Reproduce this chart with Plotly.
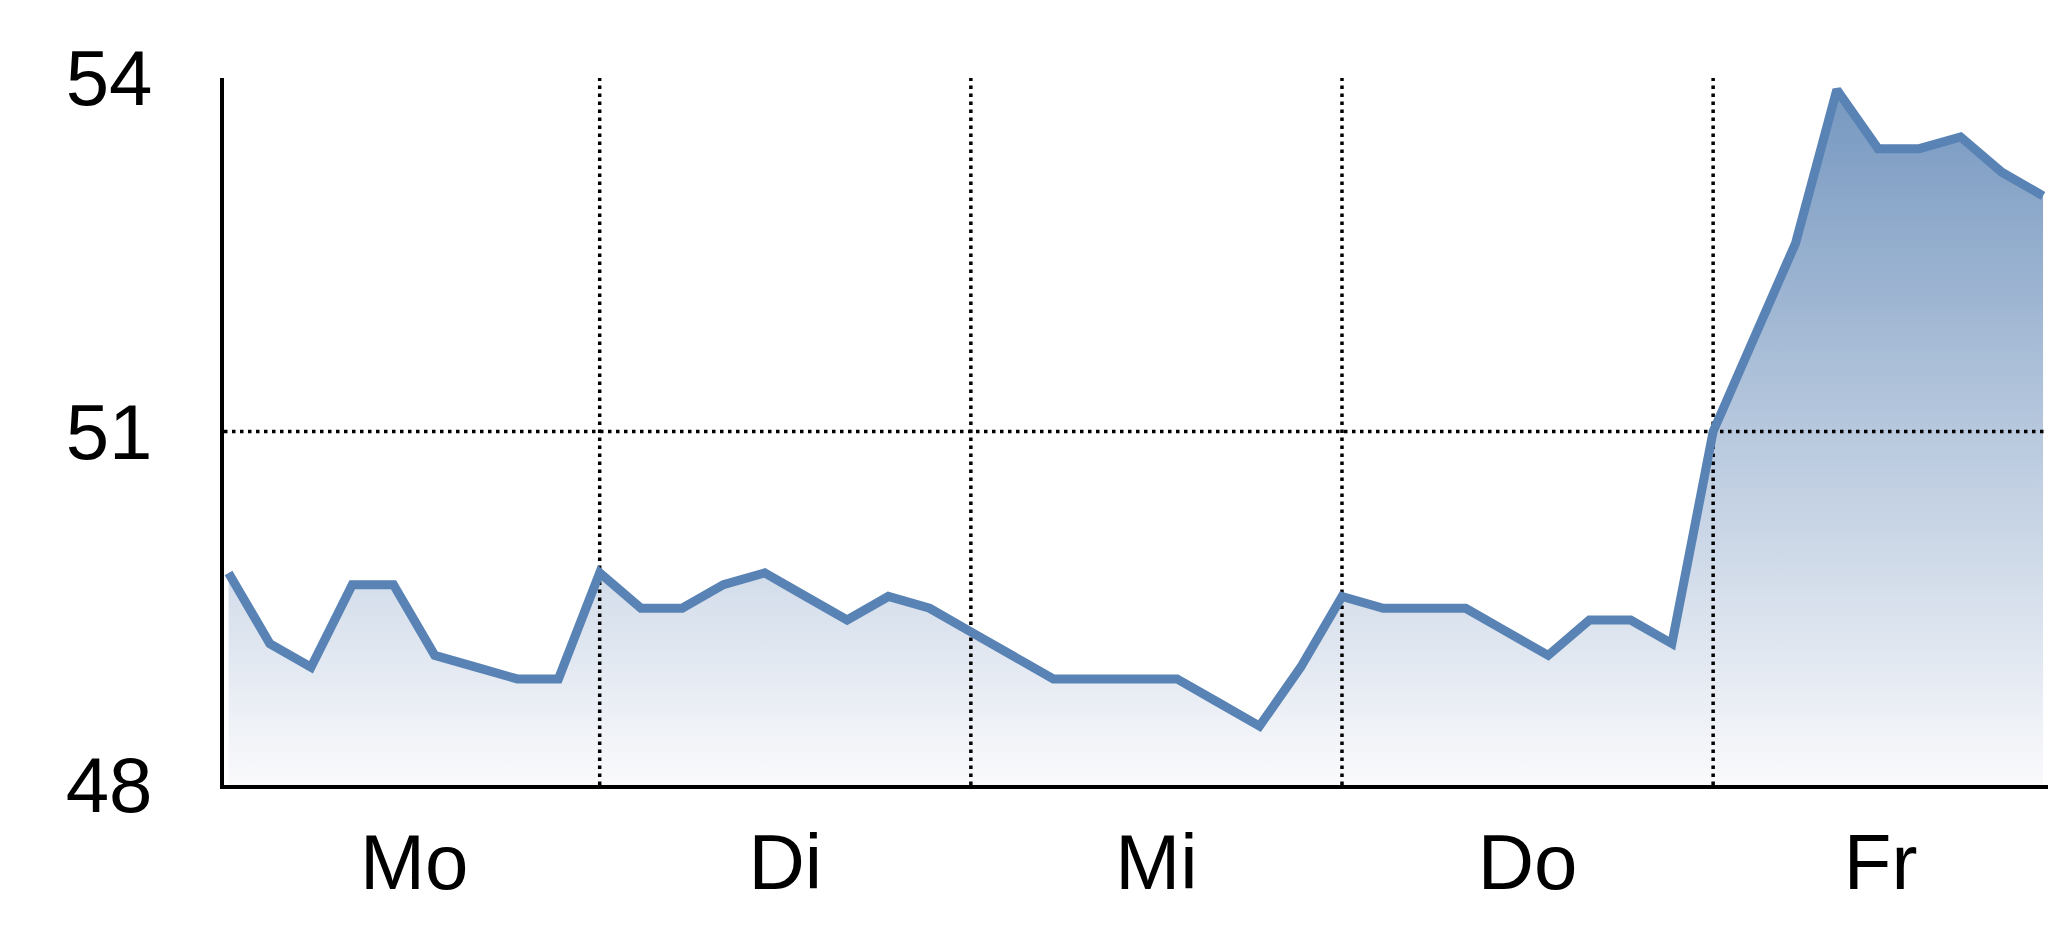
import plotly.graph_objects as go

# ---- data ----
days = ["Mo", "Di", "Mi", "Do", "Fr"]
points_per_day = 9
mo = [49.8, 49.2, 49.0, 49.7, 49.7, 49.1, 49.0, 48.9, 48.9]
di = [49.8, 49.5, 49.5, 49.7, 49.8, 49.6, 49.4, 49.6, 49.5]
mi = [49.3, 49.1, 48.9, 48.9, 48.9, 48.9, 48.7, 48.5, 49.0]
do = [49.6, 49.5, 49.5, 49.5, 49.3, 49.1, 49.4, 49.4, 49.2]
fr = [51.0, 51.8, 52.6, 53.9, 53.4, 53.4, 53.5, 53.2, 53.0]
y_ticks = [48, 51, 54]

values = mo + di + mi + do + fr
x = list(range(len(values)))

y_min, y_max = min(y_ticks), max(y_ticks)
x_range = [-0.11, len(values) - 1 + 0.12]

# day boundaries and label positions (centre of the visible part of each day)
boundaries = [i * points_per_day for i in range(1, len(days))]
label_pos = []
for i in range(len(days)):
    lo = max(i * points_per_day, x_range[0])
    hi = min((i + 1) * points_per_day, x_range[1])
    label_pos.append((lo + hi) / 2)

LINE = "rgb(89,131,181)"
FONT = "Liberation Sans, Arial, Helvetica, sans-serif"

fig = go.Figure()

# gradient area
fig.add_trace(go.Scatter(
    x=x, y=values, mode="lines", line=dict(width=0, color=LINE),
    fill="tozeroy",
    fillgradient=dict(type="vertical", start=y_min, stop=y_max,
                      colorscale=[[0, "rgb(250,250,252)"], [1, "rgb(116,150,191)"]]),
    hoverinfo="skip", showlegend=False,
))

# dotted grid lines (between fill and line)
gx, gy = [], []
for b in boundaries:
    gx += [b, b, None]
    gy += [y_min, y_max, None]
for t in y_ticks[1:-1]:
    gx += [x_range[0], x_range[1], None]
    gy += [t, t, None]
fig.add_trace(go.Scatter(
    x=gx, y=gy, mode="lines",
    line=dict(color="black", width=3.5, dash="3.5px,4.5px"),
    hoverinfo="skip", showlegend=False,
))

# main line
fig.add_trace(go.Scatter(
    x=x, y=values, mode="lines", line=dict(color=LINE, width=9),
    showlegend=False,
))

fig.update_layout(
    width=2048, height=937,
    margin=dict(l=224, r=0, t=78, b=152),
    paper_bgcolor="white", plot_bgcolor="white",
    font=dict(family=FONT, size=78, color="black"),
    xaxis=dict(
        range=x_range, showgrid=False, zeroline=False,
        showline=True, linecolor="black", linewidth=4,
        tickmode="array", tickvals=label_pos, ticktext=days,
        ticks="", ticklabelstandoff=6,
    ),
    yaxis=dict(
        range=[y_min, y_max], showgrid=False, zeroline=False,
        showline=True, linecolor="black", linewidth=4,
        tickmode="array", tickvals=y_ticks, ticktext=[str(t) for t in y_ticks],
        ticks="", ticklabelstandoff=52,
    ),
)

fig.write_html(
    "out.html",
    config={"displayModeBar": False},
    post_script="document.body.style.margin='0';"
                "document.body.style.overflow='hidden';"
                "document.documentElement.style.overflow='hidden';",
)
